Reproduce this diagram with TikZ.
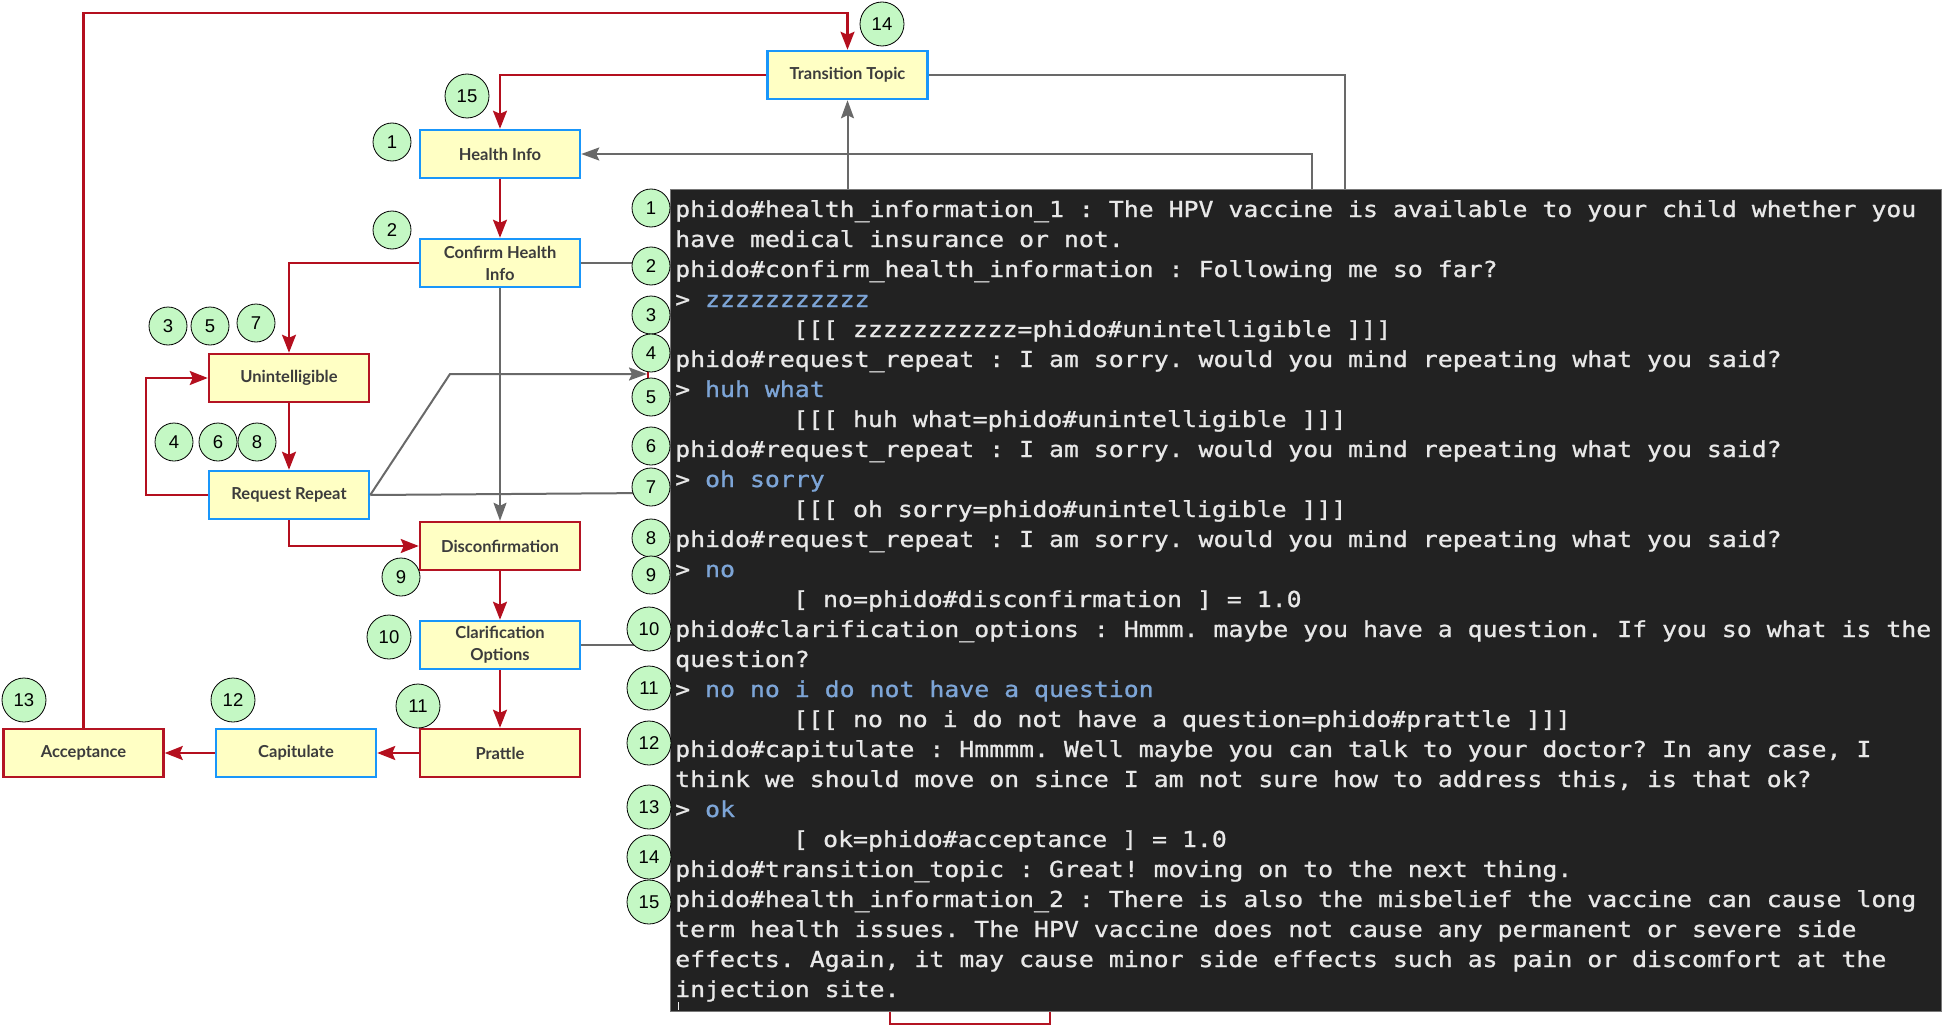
\documentclass[tikz,border=0pt]{standalone}
\usepackage{fontspec}
\usetikzlibrary{arrows.meta,calc}
\newfontfamily\termfont{DejaVu Sans Mono}[FakeStretch=1.129,FakeBold=1]
\newfontfamily\labfont{Lato}
\newfontfamily\numfont{Liberation Sans}
\frenchspacing
\definecolor{boxfill}{RGB}{255,255,196}
\definecolor{boxblue}{RGB}{25,150,250}
\definecolor{boxred}{RGB}{180,20,35}
\definecolor{linered}{RGB}{180,15,30}
\definecolor{linegray}{RGB}{105,105,105}
\definecolor{numfill}{RGB}{196,248,196}
\definecolor{termbg}{RGB}{34,34,34}
\definecolor{termedge}{RGB}{120,120,120}
\definecolor{termtext}{RGB}{232,232,232}
\definecolor{inblue}{RGB}{125,165,215}
\definecolor{labtext}{RGB}{60,60,60}
\begin{document}
\begin{tikzpicture}[x=1pt,y=-1pt,
  box/.style={draw, line width=2.5pt, fill=boxfill, minimum width=160pt, minimum height=48pt, inner sep=2pt,
    font=\labfont\bfseries\fontsize{16.5}{22}\selectfont, text=labtext, align=center},
  bbox/.style={box, draw=boxblue},
  rbox/.style={box, draw=boxred},
  num/.style={circle, draw=black, line width=0.8pt, fill=numfill, minimum size=38pt, inner sep=0pt,
    font=\numfont\fontsize{18.5}{18.5}\selectfont},
  numw/.style={num, minimum size=44pt},
  rline/.style={draw=linered, line width=2.2pt},
  rarr/.style={rline, -{Stealth[length=18pt,width=14pt,inset=3pt]}},
  gline/.style={draw=linegray, line width=2pt},
  garr/.style={gline, -{Stealth[length=18pt,width=13pt,inset=3pt]}},
  term/.style={rectangle, fill=termbg, draw=termedge, line width=0.8pt, minimum width=1271pt, minimum height=822pt, inner sep=0pt},
  tl/.style={anchor=base west, inner sep=0pt, text=termtext, font=\termfont\fontsize{22}{30}\selectfont}
]
\useasboundingbox (0,0) rectangle (1943,1030);

% boxes
\node[bbox] (tt)  at (847.5,75)  {Transition Topic};
\node[bbox] (hi)  at (500,154)   {Health Info};
\node[bbox] (chi) at (500,263)   {Confirm Health\\Info};
\node[rbox] (un)  at (289,378)   {Unintelligible};
\node[bbox] (rr)  at (289,495)   {Request Repeat};
\node[rbox] (dis) at (500,546)   {Disconfirmation};
\node[bbox] (clo) at (500,645)   {Clarification\\Options};
\node[rbox] (pr)  at (500,753)   {Prattle};
\node[bbox] (cap) at (296,753)   {Capitulate};
\node[rbox] (acc) at (83.5,753)  {Acceptance};
\node[rbox, fill=white] (hid) at (970,1000) {};

% helper coordinates
\coordinate (ytop) at (0,13);
\coordinate (loopx) at (146,0);
\coordinate (g2) at (1345,189);
\coordinate (g3) at (1312,189);
\coordinate (bend) at (450,374);
\coordinate (g6end) at (647,374);
\coordinate (g7end) at (651,493);

% red connectors
\draw[rarr] (acc.north) -- (acc.north |- ytop) -| (tt.north);
\draw[rarr] (tt.west) -| (hi.north);
\draw[rarr] (hi.south) -- (chi.north);
\draw[rarr] (chi.west) -| (un.north);
\draw[rarr] (un.south) -- (rr.north);
\draw[rarr] (rr.west) -- (rr.west -| loopx) |- (un.west);
\draw[rarr] (rr.south) |- (dis.west);
\draw[rarr] (dis.south) -- (clo.north);
\draw[rarr] (clo.south) -- (pr.north);
\draw[rarr] (pr.west) -- (cap.east);
\draw[rarr] (cap.west) -- (acc.east);
\draw[rline] (648,366) -- (648,384);

% gray connectors
\draw[garr] (g3) |- (hi.east);
\draw[gline] (tt.east) -| (g2);
\draw[gline] (chi.east) -- (chi.east -| g7end);
\draw[garr] (chi.south) -- (dis.north);
\draw[garr] (rr.east) -- (bend) -- (g6end);
\draw[gline] (rr.east) -- (g7end);
\draw[gline] (clo.east) -- (clo.east -| g7end);

% terminal
\node[term] (term) at (1305.5,600) {};
\draw[garr] (term.north -| tt.south) -- (tt.south);

\node[tl] (l1)  at (675,217) {phido\#health\_information\_1 : The HPV vaccine is available to your child whether you};
\node[tl] (l2)  at (675,247) {have medical insurance or not.};
\node[tl] (l3)  at (675,277) {phido\#confirm\_health\_information : Following me so far?};
\node[tl] (l4)  at (675,307) {> \textcolor{inblue}{zzzzzzzzzzz}};
\node[tl] (l5)  at (793,337) {[[[ zzzzzzzzzzz=phido\#unintelligible ]]]};
\node[tl] (l6)  at (675,367) {phido\#request\_repeat : I am sorry. would you mind repeating what you said?};
\node[tl] (l7)  at (675,397) {> \textcolor{inblue}{huh what}};
\node[tl] (l8)  at (793,427) {[[[ huh what=phido\#unintelligible ]]]};
\node[tl] (l9)  at (675,457) {phido\#request\_repeat : I am sorry. would you mind repeating what you said?};
\node[tl] (l10) at (675,487) {> \textcolor{inblue}{oh sorry}};
\node[tl] (l11) at (793,517) {[[[ oh sorry=phido\#unintelligible ]]]};
\node[tl] (l12) at (675,547) {phido\#request\_repeat : I am sorry. would you mind repeating what you said?};
\node[tl] (l13) at (675,577) {> \textcolor{inblue}{no}};
\node[tl] (l14) at (793,607) {[ no=phido\#disconfirmation ] = 1.0};
\node[tl] (l15) at (675,637) {phido\#clarification\_options : Hmmm. maybe you have a question. If you so what is the};
\node[tl] (l16) at (675,667) {question?};
\node[tl] (l17) at (675,697) {> \textcolor{inblue}{no no i do not have a question}};
\node[tl] (l18) at (793,727) {[[[ no no i do not have a question=phido\#prattle ]]]};
\node[tl] (l19) at (675,757) {phido\#capitulate : Hmmmm. Well maybe you can talk to your doctor? In any case, I};
\node[tl] (l20) at (675,787) {think we should move on since I am not sure how to address this, is that ok?};
\node[tl] (l21) at (675,817) {> \textcolor{inblue}{ok}};
\node[tl] (l22) at (793,847) {[ ok=phido\#acceptance ] = 1.0};
\node[tl] (l23) at (675,877) {phido\#transition\_topic : Great! moving on to the next thing.};
\node[tl] (l24) at (675,907) {phido\#health\_information\_2 : There is also the misbelief the vaccine can cause long};
\node[tl] (l25) at (675,937) {term health issues. The HPV vaccine does not cause any permanent or severe side};
\node[tl] (l26) at (675,967) {effects. Again, it may cause minor side effects such as pain or discomfort at the};
\node[tl] (l27) at (675,997) {injection site.};
\draw[draw=termtext!70, line width=1pt] (678,1002) -- (678,1010);

% left numbered circles
\node[numw] (n14) at (882,24)  {14};
\node[numw] (n15) at (467,96)  {15};
\node[num]  (n1)  at (392,142) {1};
\node[num]  (n2)  at (392,230) {2};
\node[num]  (n3)  at (168,326) {3};
\node[num]  (n5)  at (210,326) {5};
\node[num]  (n7)  at (256,323) {7};
\node[num]  (n4)  at (174,442) {4};
\node[num]  (n6)  at (218,442) {6};
\node[num]  (n8)  at (257,442) {8};
\node[num]  (n9)  at (401,577) {9};
\node[numw] (n10) at (389,637) {10};
\node[numw] (n11) at (418,706) {11};
\node[numw] (n12) at (233,700) {12};
\node[numw] (n13) at (24,700)  {13};

% right numbered circles
\node[num]  (r1)  at (651,208) {1};
\node[num]  (r2)  at (651,266) {2};
\node[num]  (r3)  at (651,315) {3};
\node[num]  (r4)  at (651,353) {4};
\node[num]  (r5)  at (651,397) {5};
\node[num]  (r6)  at (651,446) {6};
\node[num]  (r7)  at (651,487) {7};
\node[num]  (r8)  at (651,538) {8};
\node[num]  (r9)  at (651,575) {9};
\node[numw] (r10) at (649,629) {10};
\node[numw] (r11) at (649,688) {11};
\node[numw] (r12) at (649,743) {12};
\node[numw] (r13) at (649,807) {13};
\node[numw] (r14) at (649,857) {14};
\node[numw] (r15) at (649,902) {15};
\end{tikzpicture}
\end{document}
